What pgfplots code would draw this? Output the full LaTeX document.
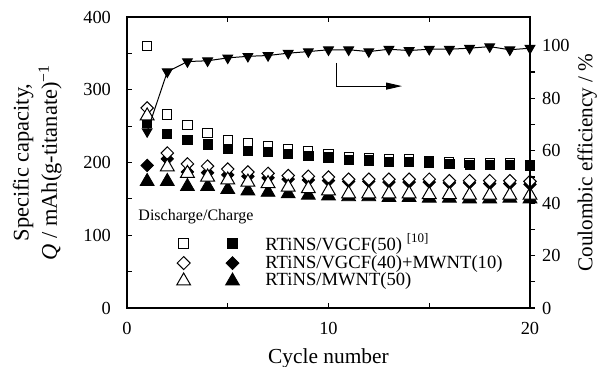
\documentclass[border=0pt]{standalone}
\usepackage{fontspec}
\setmainfont{Liberation Serif}
\usepackage{pgfplots}
\pgfplotsset{compat=1.18}
\usetikzlibrary{arrows.meta}

% Discharge / charge capacities (mAh/g) vs cycle
\pgfplotstableread{
n  vgD  vgC  mixD mixC mwD  mwC
1  360  254  275  196  264  174
2  266  239  213  205  194  174
3  251  231  198  187  185  167
4  240  225  195  186  180  167
5  231  219  191  183  176  163
6  226  216  187  181  173  161
7  222  215  185  179  171  159
8  218  212  182  177  166  157
9  215  209  181  176  164  155
10 212  207  180  175  161  154
11 208  204  177  174  157  153
12 206  203  177  174  157  153
13 204  201  177  173  157  152
14 204  201  177  173  157  152
15 202  200  177  173  156  151
16 200  198  175  172  156  151
17 199  197  175  172  155  150
18 199  197  175  171  155  150
19 199  197  175  171  155  151
20 197  195  174  170  155  150
}\captab

% Coulombic efficiency (%)
\pgfplotstableread{
n  ce
1  67.3
2  90.1
3  94.0
4  94.3
5  95.4
6  96.0
7  96.3
8  97.2
9  97.8
10 98.5
11 98.5
12 97.8
13 98.7
14 98.2
15 98.7
16 98.7
17 99.1
18 99.7
19 98.5
20 99.1
}\cetab

\begin{document}
\begin{tikzpicture}
\path[use as bounding box] (-63.5pt,-29.5pt) rectangle (236.5pt,154pt);
\begin{axis}[
  at={(0,0)}, anchor=south west,
  scale only axis, width=201.5pt, height=145.5pt,
  xmin=0, xmax=20, ymin=0, ymax=400,
  xtick={0,10,20}, minor xtick={5,15},
  ytick={0,100,200,300,400}, minor ytick={50,150,250,350},
  ytick pos=left,
  tick align=inside,
  major tick length=2.5pt, minor tick length=2.5pt,
  every tick/.style={black, line width=0.6pt},
  axis line style={line width=1pt},
  tick label style={font=\fontsize{9.2}{10}\selectfont},
  /pgf/number format/assume math mode=true,
  yticklabel style={xshift=-4.5pt},
  xticklabel style={yshift=-3.5pt},
  xlabel={Cycle number},
  ylabel={Specific capacity,\\[1.5pt]\textit{Q} / mAh(g-titanate)\textsuperscript{−1}},
  ylabel style={align=center, font=\fontsize{11.2}{10.5}\selectfont},
  ylabel shift=4pt,
  xlabel style={font=\fontsize{10.7}{11}\selectfont},
  legend columns=2,
  legend cell align=left,
  legend style={draw=none, fill=none, font=\fontsize{9.3}{10}\selectfont,
    at={(axis cs:2.15,114)}, anchor=north west,
    row sep=-3pt,
    /tikz/every even column/.append style={column sep=13.5pt},
    /tikz/column 3/.style={column sep=11pt}},
]
\addlegendimage{only marks, mark=square*, mark size=2.4pt, mark options={fill=white, line width=0.5pt}}
\addlegendentry{}
\addlegendimage{only marks, mark=square*, mark size=2.4pt}
\addlegendentry{RTiNS/VGCF(50) \textsuperscript{[10]}}
\addlegendimage{only marks, mark=square*, mark size=2.3pt, mark options={rotate=45, fill=white, line width=0.5pt}}
\addlegendentry{}
\addlegendimage{only marks, mark=square*, mark size=2.3pt, mark options={rotate=45}}
\addlegendentry{RTiNS/VGCF(40)+MWNT(10)}
\addlegendimage{only marks, mark=triangle*, mark size=4pt, mark options={fill=white, line width=0.5pt}}
\addlegendentry{}
\addlegendimage{only marks, mark=triangle*, mark size=4pt}
\addlegendentry{RTiNS/MWNT(50)}

\addplot[forget plot, only marks, mark=square*, mark size=2.3pt, mark options={fill=white, line width=0.5pt}] table[x=n, y=vgD] {\captab};
\addplot[forget plot, only marks, mark=square*, mark size=2.3pt] table[x=n, y=vgC] {\captab};
\addplot[forget plot, only marks, mark=square*, mark size=2.2pt, mark options={rotate=45}] table[x=n, y=mixC] {\captab};
\addplot[forget plot, only marks, mark=triangle*, mark size=4pt] table[x=n, y=mwC] {\captab};
\addplot[forget plot, only marks, mark=square*, mark size=2.2pt, mark options={rotate=45, fill=white, line width=0.5pt}] table[x=n, y=mixD] {\captab};
\addplot[forget plot, only marks, mark=triangle*, mark size=4pt, mark options={fill=white, line width=0.5pt}] table[x=n, y=mwD] {\captab};

\node[anchor=west, inner sep=0pt, font=\fontsize{8}{9}\selectfont] at (axis cs:0.55,125) {Discharge/Charge};
\draw[line width=0.5pt, -{Triangle[length=8pt,width=3.5pt]}] (axis cs:10.4,337) |- (axis cs:13.65,305);
\end{axis}

\begin{axis}[
  at={(0,0)}, anchor=south west,
  scale only axis, width=201.5pt, height=145.5pt,
  xmin=0, xmax=20, ymin=0, ymax=111,
  axis x line=none,
  axis y line*=right,
  ytick={0,20,40,60,80,100}, minor ytick={10,30,50,70,90},
  tick align=outside,
  major tick length=2.5pt, minor tick length=2.5pt,
  every tick/.style={black, line width=0.6pt},
  axis line style={line width=1pt},
  tick label style={font=\fontsize{9.2}{10}\selectfont},
  /pgf/number format/assume math mode=true,
  ylabel={Coulombic efficiency / \%},
  ylabel style={font=\fontsize{10.6}{11}\selectfont},
  ylabel shift=-3pt,
]
\addplot[black, line width=0.5pt, mark=triangle*, mark size=2.8pt, mark options={rotate=180}] table[x=n, y=ce] {\cetab};
\end{axis}
\end{tikzpicture}
\end{document}
